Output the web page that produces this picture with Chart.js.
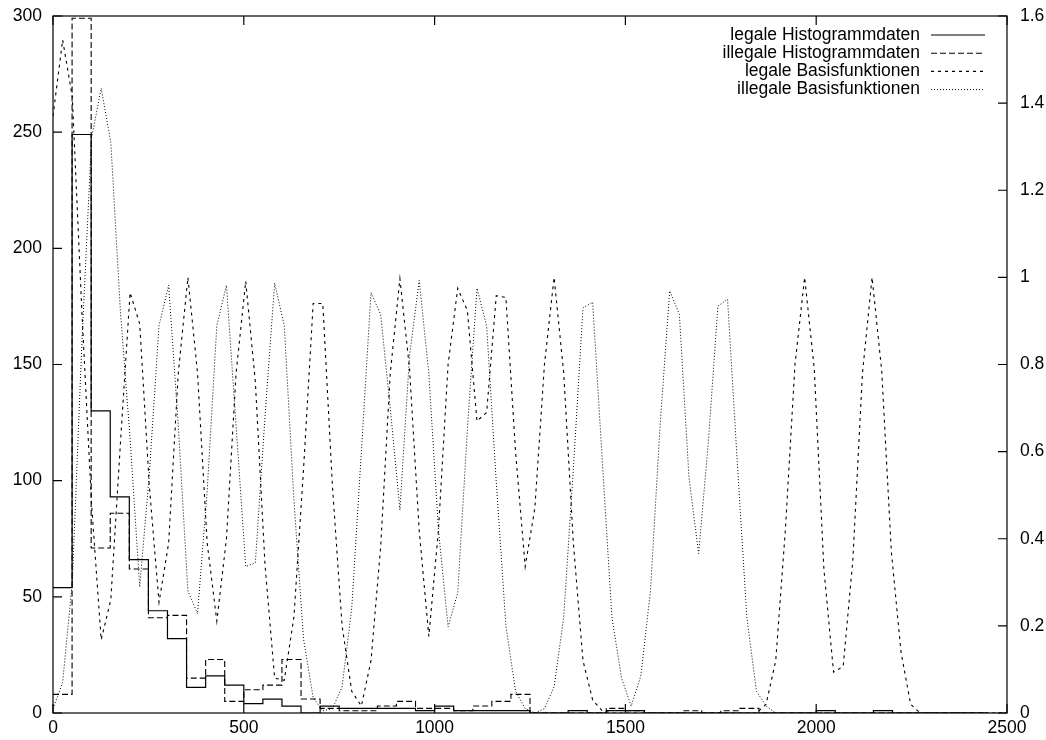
<!DOCTYPE html>
<html>
<head>
<meta charset="utf-8">
<script src="https://cdn.jsdelivr.net/npm/chart.js@4.4.0/dist/chart.umd.min.js"></script>
<style>
  html, body { margin: 0; padding: 0; background: #fff; }
  #wrap { width: 1046px; height: 740px; }
</style>
</head>
<body>
<div id="wrap"><canvas id="chart" width="1046" height="740"></canvas></div>
<script>
// Histogram bins: 50 wide, start of each bin on the x axis
const binStarts = Array.from({ length: 50 }, (_, i) => i * 50);

// Counts per bin (left axis)
const legalHist = [54, 249, 130, 93, 66, 44, 32, 11, 16, 12,
  4, 6, 3, 0, 3, 2, 2, 2, 2, 1,
  3, 1, 1, 1, 1, 0, 0, 1, 0, 1,
  1, 0, 0, 0, 0, 0, 0, 0, 0, 0,
  1, 0, 0, 1, 0, 0, 0, 0, 0, 0];
const illegalHist = [8, 299, 71, 86, 62, 41, 42, 15, 23, 5,
  10, 12, 23, 6, 2, 1, 1, 3, 5, 2,
  2, 1, 3, 5, 8, 0, 0, 0, 0, 2,
  1, 0, 0, 1, 0, 1, 2, 0, 0, 0,
  0, 0, 0, 0, 0, 0, 0, 0, 0, 0];

// Basis functions are sampled 100 times over 0..2500 (right axis)
const sampleX = Array.from({ length: 100 }, (_, k) => k * 2500 / 99);

const legalBasis = [1.37, 1.545, 1.415, 0.92, 0.48, 0.168, 0.26, 0.62, 0.965, 0.893,
  0.52, 0.254, 0.39, 0.78, 1.0, 0.78, 0.39, 0.211, 0.4, 0.78,
  0.991, 0.76, 0.34, 0.08, 0.075, 0.22, 0.56, 0.94, 0.94, 0.52,
  0.2, 0.05, 0.016, 0.12, 0.38, 0.78, 0.997, 0.79, 0.42, 0.176,
  0.42, 0.8, 0.975, 0.924, 0.67, 0.69, 0.958, 0.954, 0.6, 0.336,
  0.47, 0.8, 1.0, 0.78, 0.39, 0.12, 0.03, 0.005, 0, 0,
  0, 0, 0, 0, 0, 0, 0, 0, 0, 0,
  0, 0, 0, 0, 0.02, 0.12, 0.42, 0.8, 1.0, 0.79,
  0.33, 0.094, 0.107, 0.35, 0.78, 1.0, 0.785, 0.37, 0.14, 0.02,
  0, 0, 0, 0, 0, 0, 0, 0, 0, 0];

const illegalBasis = [0.01, 0.07, 0.3, 0.85, 1.32, 1.434, 1.31, 0.92, 0.63, 0.289,
  0.55, 0.889, 0.982, 0.66, 0.28, 0.228, 0.51, 0.889, 0.982, 0.66,
  0.336, 0.345, 0.68, 0.987, 0.889, 0.49, 0.17, 0.035, 0.005, 0.01,
  0.06, 0.24, 0.6, 0.965, 0.915, 0.7, 0.466, 0.82, 0.993, 0.78,
  0.42, 0.198, 0.276, 0.65, 0.975, 0.889, 0.53, 0.2, 0.05, 0.01,
  0, 0.01, 0.06, 0.22, 0.56, 0.93, 0.943, 0.58, 0.22, 0.08,
  0.016, 0.085, 0.28, 0.66, 0.969, 0.915, 0.54, 0.366, 0.62, 0.934,
  0.95, 0.58, 0.22, 0.05, 0.016, 0, 0, 0, 0, 0,
  0, 0, 0, 0, 0, 0, 0, 0, 0, 0,
  0, 0, 0, 0, 0, 0, 0, 0, 0, 0];

const seriesLabels = ['legale Histogrammdaten', 'illegale Histogrammdaten',
  'legale Basisfunktionen', 'illegale Basisfunktionen'];

function toPoints(xs, ys) {
  return xs.map((x, i) => ({ x: x, y: ys[i] }));
}

Chart.defaults.font.family = '"Liberation Sans", Arial, sans-serif';
Chart.defaults.font.size = 17.5;
Chart.defaults.color = '#000';

// fixed axis sizes so the plot box lands where gnuplot put it
function fixWidth(w) {
  return function (scale) {
    scale.width = w;
    scale.paddingTop = 0;
    scale.paddingBottom = 0;
  };
}

// gnuplot style frame with inward ticks on all sides
const frameAndTicks = {
  id: 'frameAndTicks',
  afterDatasetsDraw(chart) {
    const { ctx, chartArea: a, scales } = chart;
    const tick = 9;
    ctx.save();
    ctx.strokeStyle = '#000';
    ctx.lineWidth = 1.2;
    ctx.setLineDash([]);
    ctx.strokeRect(a.left, a.top, a.right - a.left, a.bottom - a.top);
    ctx.beginPath();
    scales.x.ticks.forEach(t => {
      const px = scales.x.getPixelForValue(t.value);
      ctx.moveTo(px, a.bottom); ctx.lineTo(px, a.bottom - tick);
      ctx.moveTo(px, a.top); ctx.lineTo(px, a.top + tick);
    });
    scales.y.ticks.forEach(t => {
      const py = scales.y.getPixelForValue(t.value);
      ctx.moveTo(a.left, py); ctx.lineTo(a.left + tick, py);
    });
    scales.y2.ticks.forEach(t => {
      const py = scales.y2.getPixelForValue(t.value);
      ctx.moveTo(a.right, py); ctx.lineTo(a.right - tick, py);
    });
    ctx.stroke();
    ctx.restore();
  }
};

// key in the top right corner: text right aligned, line sample after it
const keyBox = {
  id: 'keyBox',
  afterDraw(chart) {
    const { ctx } = chart;
    ctx.save();
    ctx.font = '17.5px "Liberation Sans", Arial, sans-serif';
    ctx.fillStyle = '#000';
    ctx.textAlign = 'right';
    ctx.textBaseline = 'middle';
    chart.data.datasets.forEach((ds, i) => {
      const y = 35 + i * 18.2;
      ctx.fillText(ds.label, 920, y);
      ctx.strokeStyle = '#000';
      ctx.lineWidth = ds.borderWidth;
      ctx.setLineDash(ds.borderDash || []);
      ctx.beginPath();
      ctx.moveTo(931, y);
      ctx.lineTo(985, y);
      ctx.stroke();
    });
    ctx.restore();
  }
};

const ctx = document.getElementById('chart').getContext('2d');
const chart = new Chart(ctx, {
  type: 'line',
  data: {
    datasets: [{
      label: seriesLabels[0],
      data: toPoints(binStarts, legalHist),
      stepped: true,
      borderColor: '#000',
      borderWidth: 1.2,
      yAxisID: 'y'
    }, {
      label: seriesLabels[1],
      data: toPoints(binStarts, illegalHist),
      stepped: true,
      borderColor: '#000',
      borderWidth: 1.1,
      borderDash: [6, 3],
      yAxisID: 'y'
    }, {
      label: seriesLabels[2],
      data: toPoints(sampleX, legalBasis),
      borderColor: '#000',
      borderWidth: 1.1,
      borderDash: [3, 4],
      yAxisID: 'y2'
    }, {
      label: seriesLabels[3],
      data: toPoints(sampleX, illegalBasis),
      borderColor: '#000',
      borderWidth: 1,
      borderDash: [1, 2],
      yAxisID: 'y2'
    }]
  },
  options: {
    responsive: false,
    animation: false,
    devicePixelRatio: 1,
    layout: { padding: { top: 16, left: 0, right: 0, bottom: 0 } },
    elements: {
      point: { radius: 0, hoverRadius: 0 },
      line: { tension: 0, fill: false }
    },
    plugins: {
      legend: { display: false },
      tooltip: { enabled: false }
    },
    scales: {
      x: {
        type: 'linear',
        min: 0,
        max: 2500,
        ticks: { stepSize: 500, padding: 5, maxRotation: 0, color: '#000', callback: (v) => String(v) },
        grid: { display: false, drawTicks: false },
        border: { display: false },
        afterFit(scale) { scale.height = 27; }
      },
      y: {
        position: 'left',
        min: 0,
        max: 300,
        ticks: { stepSize: 50, padding: 11, color: '#000' },
        grid: { display: false, drawTicks: false },
        border: { display: false },
        afterFit: fixWidth(53)
      },
      y2: {
        position: 'right',
        min: 0,
        max: 1.6,
        ticks: {
          stepSize: 0.2,
          padding: 13,
          color: '#000',
          callback: (v) => String(+v.toFixed(1))
        },
        grid: { display: false, drawTicks: false },
        border: { display: false },
        afterFit: fixWidth(39)
      }
    }
  },
  plugins: [frameAndTicks, keyBox]
});
</script>
</body>
</html>
